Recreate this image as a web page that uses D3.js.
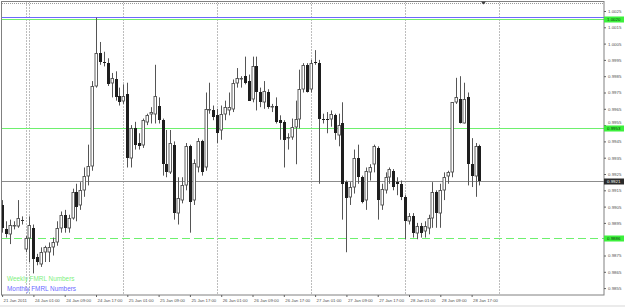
<!DOCTYPE html>
<html><head><meta charset="utf-8">
<script src="https://cdn.jsdelivr.net/npm/d3@7"></script>
<style>
html,body{margin:0;padding:0;background:#fff;overflow:hidden}
svg{display:block}
</style></head>
<body>
<script>
// ---- data (H1 candles, 21 Jan 2011 .. 28 Jan 2011) ----
const open = [
.9906,.9891,.9888,.9893,.9893,.9897,.9879,.9886,.9892,.9874,
.9870,.9877,.9877,.9880,.9883,.9892,.9900,.9892,.9898,.9914,
.9906,.9915,.9924,.9930,.9979,.9999,.9994,.9993,.9981,.9983,
.9973,.9970,.9974,.9935,.9953,.9944,.9943,.9957,.9962,.9962,
.9967,.9958,.9931,.9926,.9943,.9901,.9909,.9918,.9942,.9909,
.9929,.9945,.9929,.9964,.9964,.9961,.9952,.9962,.9964,.9965,
.9981,.9983,.9985,.9982,.9971,.9991,.9975,.9969,.9975,.9966,
.9967,.9958,.9957,.9947,.9948,.9954,.9959,.9977,.9992,.9977,
.9994,.9993,.9959,.9959,.9959,.9961,.9949,.9956,.9920,.9911,
.9917,.9935,.9923,.9909,.9926,.9931,.9941,.9906,.9915,.9923,
.9927,.9920,.9919,.9911,.9896,.9899,.9889,.9893,.9890,.9892,
.9898,.9914,.9901,.9915,.9924,.9926,.9969,.9971,.9956,.9972,
.9931,.9924,.9942];
const high = [
.9909,.9896,.9897,.9896,.9909,.9899,.9887,.9899,.9894,.9876,
.9880,.9881,.9883,.9886,.9896,.9902,.9903,.9900,.9916,.9919,
.9920,.9929,.9943,.9982,1.0021,1.0006,1.0000,.9996,.9987,.9988,
.9978,.9980,.9981,.9955,.9957,.9950,.9959,.9962,.9966,.9992,
.9972,.9959,.9952,.9952,.9945,.9923,.9923,.9944,.9943,.9934,
.9947,.9946,.9975,.9981,.9967,.9965,.9967,.9970,.9975,.9983,
.9990,.9985,.9997,.9986,.9997,.9997,.9978,.9982,.9977,.9968,
.9972,.9961,.9958,.9950,.9959,.9970,.9989,.9993,.9993,.9995,
1.0001,.9995,.9962,.9963,.9964,.9962,.9962,.9969,.9921,.9920,
.9940,.9943,.9924,.9929,.9931,.9943,.9942,.9919,.9926,.9929,
.9928,.9923,.9921,.9912,.9901,.9901,.9895,.9895,.9896,.9900,
.9920,.9915,.9919,.9926,.9927,.9969,.9984,.9985,.9981,.9975,
.9947,.9944,.9943];
const low = [
.9889,.9886,.9882,.9891,.9892,.9894,.9877,.9871,.9864,.9869,
.9868,.9871,.9871,.9875,.9881,.9889,.9889,.9889,.9897,.9896,
.9903,.9911,.9918,.9927,.9978,.9992,.9991,.9979,.9972,.9970,
.9967,.9968,.9929,.9929,.9940,.9940,.9941,.9955,.9956,.9956,
.9956,.9924,.9923,.9925,.9897,.9894,.9907,.9915,.9889,.9906,
.9926,.9924,.9927,.9962,.9958,.9944,.9946,.9958,.9961,.9963,
.9978,.9978,.9980,.9970,.9969,.9964,.9966,.9965,.9965,.9963,
.9956,.9946,.9929,.9940,.9946,.9931,.9953,.9975,.9975,.9975,
.9992,.9919,.9956,.9950,.9954,.9946,.9942,.9897,.9877,.9906,
.9913,.9919,.9907,.9903,.9921,.9926,.9897,.9903,.9913,.9919,
.9915,.9912,.9909,.9885,.9894,.9886,.9885,.9886,.9886,.9888,
.9892,.9892,.9892,.9909,.9919,.9923,.9968,.9956,.9956,.9918,
.9917,.9911,.9918];
const close = [
.9892,.9888,.9894,.9894,.9898,.9897,.9886,.9894,.9873,.9871,
.9877,.9880,.9880,.9883,.9892,.9900,.9892,.9898,.9914,.9905,
.9915,.9924,.9930,.9979,.9999,.9994,.9993,.9980,.9984,.9972,
.9969,.9973,.9935,.9953,.9943,.9942,.9958,.9961,.9963,.9973,
.9958,.9931,.9926,.9944,.9901,.9910,.9918,.9942,.9908,.9932,
.9945,.9926,.9965,.9965,.9960,.9950,.9962,.9966,.9966,.9981,
.9984,.9984,.9981,.9970,.9991,.9975,.9969,.9976,.9966,.9967,
.9957,.9956,.9946,.9948,.9954,.9959,.9977,.9992,.9975,.9993,
.9993,.9959,.9958,.9958,.9962,.9950,.9955,.9919,.9910,.9917,
.9935,.9923,.9908,.9927,.9929,.9942,.9909,.9916,.9923,.9928,
.9917,.9919,.9911,.9896,.9899,.9889,.9893,.9889,.9893,.9898,
.9914,.9901,.9915,.9923,.9926,.9969,.9972,.9956,.9971,.9931,
.9924,.9942,.9921];

const priceTicks = [1.0025,1.0015,1.0005,0.9995,0.9985,0.9975,0.9965,0.9955,0.9945,
  0.9935,0.9925,0.9915,0.9905,0.9895,0.9885,0.9875,0.9865,0.9855];
const timeTickBars = [0,8,16,24,32,40,48,56,64,72,80,88,96,104,112,120];
const timeTickLabels = ["21 Jan 2011","24 Jan 01:00","24 Jan 09:00","24 Jan 17:00",
  "25 Jan 01:00","25 Jan 09:00","25 Jan 17:00","26 Jan 01:00","26 Jan 09:00",
  "26 Jan 17:00","27 Jan 01:00","27 Jan 09:00","27 Jan 17:00","28 Jan 01:00",
  "28 Jan 09:00","28 Jan 17:00"];
const daySeparatorBars = [6,7,31,55,79,103,127];
const weeklyFMRL = [1.0020, 0.9953, 0.9886];
const monthlyFMRL = [1.0021];
const bidPrice = 0.9921;
const legendLabels = ["Weekly FMRL Numbers","Monthly FMRL Numbers"];

// ---- layout ----
const W = 625, H = 307;
const L = 2, T = 1.5, R = 604, B = 295;
const FONT = "'Liberation Sans', Arial, sans-serif";
const svg = d3.select("body").append("svg").attr("width", W).attr("height", H)
  .style("font-family", FONT);
svg.append("rect").attr("width", W).attr("height", H).attr("fill", "#ffffff");
svg.append("rect").attr("x", 0).attr("y", 305).attr("width", W).attr("height", 2).attr("fill", "#ebebeb");

const x = d3.scaleLinear().domain([0, 127]).range([2.1, 499]);
const y = d3.scaleLinear().domain([0.9855, 1.0025]).range([288.1, 11]);
const px = v => Math.round(v) + 0.5;

// period separators
svg.append("g").selectAll("line").data(daySeparatorBars).join("line")
  .attr("x1", d => px(x(d))).attr("x2", d => px(x(d)))
  .attr("y1", T).attr("y2", B)
  .attr("stroke", "#7a7a7a").attr("stroke-width", 1).attr("stroke-dasharray", "1,2");

// top dotted line
svg.append("line").attr("x1", L).attr("x2", R).attr("y1", 3.5).attr("y2", 3.5)
  .attr("stroke", "#9a9a9a").attr("stroke-dasharray", "1,1");

// level lines
const levels = svg.append("g");
levels.selectAll("line.w").data(weeklyFMRL).join("line").attr("class", "w")
  .attr("x1", L).attr("x2", R).attr("y1", d => px(y(d))).attr("y2", d => px(y(d)))
  .attr("stroke", "#6ef06e").attr("stroke-width", 1)
  .attr("stroke-dasharray", (d, i) => i === weeklyFMRL.length - 1 ? "8,4" : null);
levels.selectAll("line.m").data(monthlyFMRL).join("line").attr("class", "m")
  .attr("x1", L).attr("x2", R).attr("y1", d => px(y(d)) - 1).attr("y2", d => px(y(d)) - 1)
  .attr("stroke", "#6a6aff").attr("stroke-width", 1);
levels.append("line").attr("x1", L).attr("x2", R)
  .attr("y1", px(y(bidPrice))).attr("y2", px(y(bidPrice)))
  .attr("stroke", "#8c8c8c").attr("stroke-width", 1);

// candles
const bars = d3.range(open.length).map(i => ({i, o: open[i], h: high[i], l: low[i], c: close[i]}));
const cg = svg.append("g");
const bw = 3;
bars.forEach(d => {
  const cx = px(x(d.i));
  const top = Math.max(d.h, d.o, d.c), bot = Math.min(d.l, d.o, d.c);
  cg.append("line").attr("x1", cx).attr("x2", cx)
    .attr("y1", y(top)).attr("y2", y(bot))
    .attr("stroke", "#555").attr("stroke-width", 1);
  const y1 = Math.round(y(Math.max(d.o, d.c))), y2 = Math.round(y(Math.min(d.o, d.c)));
  const hgt = Math.max(1, y2 - y1);
  if (d.c > d.o) {
    cg.append("rect").attr("x", cx - 1.5).attr("y", y1 + 0.5).attr("width", bw - 0.5)
      .attr("height", Math.max(0.5, hgt - 0.5))
      .attr("fill", "#ffffff").attr("stroke", "#505050").attr("stroke-width", 0.9);
  } else if (d.c < d.o) {
    cg.append("rect").attr("x", cx - 1.5).attr("y", y1).attr("width", bw)
      .attr("height", hgt).attr("fill", "#1e1e1e");
  } else {
    cg.append("line").attr("x1", cx - 1.5).attr("x2", cx + 1.5)
      .attr("y1", y1 + 0.5).attr("y2", y1 + 0.5).attr("stroke", "#333");
  }
});

// border
svg.append("rect").attr("x", L - 0.5).attr("y", T).attr("width", R - L + 0.5).attr("height", B - T)
  .attr("fill", "none").attr("stroke", "#808080").attr("stroke-width", 1);

// chart shift marker
svg.append("path").attr("d", "M481,1.5L486,1.5L483.5,4.5Z").attr("fill", "#404040");

// price label boxes (positions used to keep tick labels clear)
const boxes = [
  ...weeklyFMRL.map(p => ({p, fill: "#3cf03c", text: "#0a3a0a"})),
  {p: bidPrice, fill: "#2a2a2a", text: "#ffffff"}
];
const boxY = boxes.map(b => px(y(b.p)));

// price axis
const ya = svg.append("g").attr("transform", `translate(${R},0)`)
  .call(d3.axisRight(y).tickValues(priceTicks).tickSize(2).tickPadding(2).tickFormat(d3.format(".4f")));
ya.select(".domain").remove();
ya.selectAll("line").attr("stroke", "#606060");
ya.selectAll("text").attr("fill", "#505050").style("font-size", "4.4px").attr("font-family", FONT)
  .attr("dy", d => {
    const yt = y(d);
    let shift = 0;
    boxY.forEach(by => {
      const dd = yt - by;
      if (Math.abs(dd) >= 1.5 && Math.abs(dd) < 6.5) shift = dd < 0 ? -(6.5 + dd) : (6.5 - dd);
    });
    return (0.32 + shift / 4.4) + "em";
  });

// time axis
const xa = svg.append("g").attr("transform", `translate(0,${B})`)
  .call(d3.axisBottom(x).tickValues(timeTickBars).tickSize(2).tickPadding(2)
    .tickFormat((d, i) => timeTickLabels[i]));
xa.select(".domain").remove();
xa.selectAll("line").attr("stroke", "#606060");
xa.selectAll("text").attr("fill", "#505050").attr("text-anchor", "start").attr("dx", 1)
  .style("font-size", "4.3px").attr("font-family", FONT);

// monthly tick on the axis
svg.append("g").selectAll("line").data(monthlyFMRL).join("line")
  .attr("x1", R).attr("x2", R + 20).attr("y1", d => px(y(d)) - 1).attr("y2", d => px(y(d)) - 1)
  .attr("stroke", "#6a6aff");

boxes.forEach((b, i) => {
  const yy = boxY[i];
  svg.append("rect").attr("x", R).attr("y", yy - 3).attr("width", 20).attr("height", 6)
    .attr("fill", b.fill);
  svg.append("text").attr("x", R + 3).attr("y", yy).attr("dy", "0.35em")
    .attr("fill", b.text).style("font-size", "4.4px").text(d3.format(".4f")(b.p));
});

// legend
const legendColors = ["#80f080", "#6a6aff"];
svg.append("g").selectAll("text").data(legendLabels).join("text")
  .attr("x", 7).attr("y", (d, i) => 281 + i * 10)
  .attr("fill", (d, i) => legendColors[i]).style("font-size", "6.4px").text(d => d);
</script>
</body></html>
